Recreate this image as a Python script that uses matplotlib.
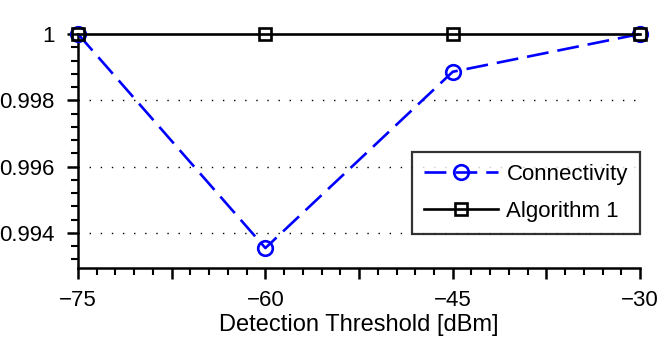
import numpy as np
import matplotlib.pyplot as plt
from matplotlib.ticker import MultipleLocator

plt.rcParams['font.family'] = ['Liberation Sans', 'DejaVu Sans']
plt.rcParams['font.size'] = 16

threshold = [-75, -60, -45, -30]
connectivity = [1.0, 0.99354, 0.99886, 1.0]
algorithm1 = [1.0, 1.0, 1.0, 1.0]
xtick_labels = ['\u221275', '', '\u221260', '', '\u221245', '', '\u221230']
ytick_values = [0.994, 0.996, 0.998, 1.0]
ytick_labels = ['0.994', '0.996', '0.998', '1']

fig = plt.figure(figsize=(6.64, 3.4), dpi=100)
ax = fig.add_axes([0.1175, 0.212, 0.8465, 0.688])

# dotted guide lines
for y in ytick_values[:-1]:
    ax.axhline(y, color='black', linestyle=(0, (1, 7)), linewidth=1.0, zorder=0)

ax.plot(threshold, connectivity, color='blue', linestyle=(0, (8.3, 3.4)), linewidth=1.9,
        marker='o', markersize=10.5, markerfacecolor='none', markeredgewidth=1.9,
        label='Connectivity', clip_on=False, zorder=3)
ax.plot(threshold, algorithm1, color='black', linestyle='-', linewidth=1.9,
        marker='s', markersize=8, markerfacecolor='none', markeredgewidth=1.9,
        label='Algorithm 1', clip_on=False, zorder=4)

ax.set_xlim(-75, -30)
ax.set_ylim(0.99294, 1.0)
ax.set_xticks(np.arange(-75, -29, 7.5))
ax.set_xticklabels(xtick_labels)
ax.xaxis.set_minor_locator(MultipleLocator(1.5))
ax.set_yticks(ytick_values)
ax.set_yticklabels(ytick_labels)
ax.yaxis.set_minor_locator(MultipleLocator(0.0004))

for s in ['top', 'right']:
    ax.spines[s].set_visible(False)
for s in ['left', 'bottom']:
    ax.spines[s].set_linewidth(1.8)
ax.tick_params(which='major', direction='out', length=8, width=1.8)
ax.tick_params(which='minor', direction='out', length=5, width=1.5)
ax.tick_params(axis='x', which='major', pad=8)
ax.tick_params(axis='y', which='major', pad=9)

ax.set_xlabel('Detection Threshold [dBm]', fontsize=17, labelpad=2)

leg = ax.legend(loc='lower right', bbox_to_anchor=(1.0, 0.145), frameon=True,
                fancybox=False, edgecolor='black', handlelength=3.3,
                borderpad=0.55, labelspacing=0.7, handletextpad=0.4,
                borderaxespad=0.0)
leg.get_frame().set_linewidth(1.6)

fig.savefig('out.png', dpi=100)
